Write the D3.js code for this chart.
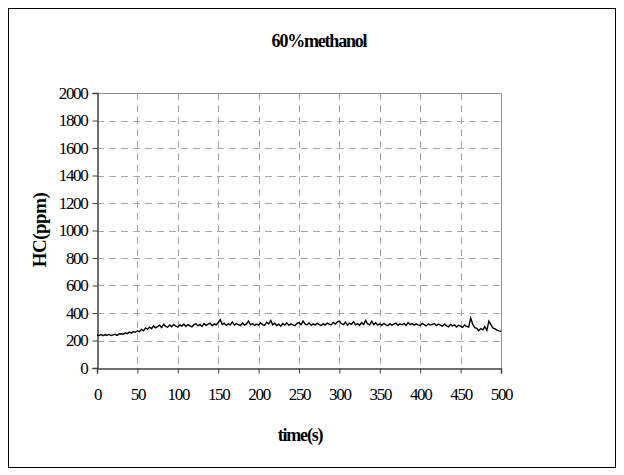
<!DOCTYPE html>
<html>
<head>
<meta charset="utf-8">
<script src="https://cdn.jsdelivr.net/npm/d3@7/dist/d3.min.js"></script>
<style>
  html, body { margin: 0; padding: 0; background: #fff; }
  svg { display: block; }
  text { font-family: "Liberation Serif", "Times New Roman", serif; fill: #000; }
</style>
</head>
<body>
<svg id="chart" width="624" height="475"></svg>
<script>
// HC concentration sampled every 2.5 s
const timeStep = 2.5;
const hcValues = [
  240,236,243,235,242,238,244,236,241,245,
  237,247,249,246,256,250,261,254,265,260,
  271,264,281,270,291,282,297,286,306,292,
  301,311,294,319,303,297,313,300,317,304,
  299,313,304,319,302,316,307,299,315,321,
  306,317,302,323,310,319,327,308,321,313,
  331,351,316,326,310,321,314,335,312,323,
  316,308,327,312,321,341,314,323,310,319,
  312,327,316,310,333,320,346,314,325,308,
  319,304,323,312,329,310,321,314,308,325,
  331,316,341,320,314,327,310,321,312,325,
  316,308,323,312,327,318,314,331,320,336,
  341,323,316,333,312,327,318,337,314,323,
  310,331,316,346,320,314,341,316,329,312,
  321,310,325,314,308,323,312,319,327,310,
  321,314,325,310,331,316,323,312,321,314,
  310,325,316,306,321,312,317,323,308,319,
  312,304,319,308,300,317,306,313,298,311,
  304,296,313,302,298,363,318,294,289,272,
  287,278,301,274,341,316,291,284,276,270,
  267
];
const xTicks = [0, 50, 100, 150, 200, 250, 300, 350, 400, 450, 500];
const yTicks = [0, 200, 400, 600, 800, 1000, 1200, 1400, 1600, 1800, 2000];
const titleText = "60%methanol";
const xLabel = "time(s)";
const yLabel = "HC(ppm)";

const svg = d3.select("#chart");
const plot = { left: 97, right: 501, top: 93, bottom: 368 };
const serif = '"Liberation Serif", "Times New Roman", serif';

// outer frame
svg.append("rect")
  .attr("x", 8.5).attr("y", 8.5)
  .attr("width", 607).attr("height", 459)
  .attr("fill", "#fff").attr("stroke", "#000").attr("stroke-width", 1);

const x = d3.scaleLinear().domain([0, 500]).range([plot.left, plot.right]);
const y = d3.scaleLinear().domain([0, 2000]).range([plot.bottom, plot.top]);

// dashed grid
const grid = svg.append("g");
grid.selectAll("line.h").data(yTicks.filter(v => v > 0 && v < 2000)).join("line")
  .attr("x1", plot.left).attr("x2", plot.right)
  .attr("y1", d => Math.round(y(d)) + 0.5).attr("y2", d => Math.round(y(d)) + 0.5)
  .attr("stroke", "#a6a6a6").attr("stroke-dasharray", "7,5");
grid.selectAll("line.v").data(xTicks.filter(v => v > 0 && v < 500)).join("line")
  .attr("y1", plot.top).attr("y2", plot.bottom)
  .attr("x1", d => Math.round(x(d)) + 0.5).attr("x2", d => Math.round(x(d)) + 0.5)
  .attr("stroke", "#a6a6a6").attr("stroke-dasharray", "7,5");

// plot frame top/right
svg.append("path")
  .attr("d", `M${plot.left},${plot.top + 0.5}H${plot.right + 0.5}V${plot.bottom}`)
  .attr("fill", "none").attr("stroke", "#8c8c8c");

// axes
const xAxis = d3.axisBottom(x).tickValues(xTicks).tickFormat(d3.format("d")).tickSize(5).tickPadding(14);
const yAxis = d3.axisLeft(y).tickValues(yTicks).tickFormat(d3.format("d")).tickSize(5).tickPadding(5);

const gx = svg.append("g").attr("transform", `translate(0,${plot.bottom + 0.5})`).call(xAxis);
const gy = svg.append("g").attr("transform", `translate(${plot.left + 0.5},0)`).call(yAxis);
[gx, gy].forEach(g => {
  g.attr("font-family", serif).attr("font-size", 17);
  g.select(".domain").attr("stroke", "#404040").attr("stroke-width", 1.5);
  g.selectAll(".tick line").attr("stroke", "#404040");
  g.selectAll(".tick text")
    .attr("font-family", serif).attr("font-size", 17)
    .attr("letter-spacing", "-1.3").attr("fill", "#000");
});

// series line
const line = d3.line()
  .x((d, i) => x(i * timeStep))
  .y(d => y(d));
svg.append("path")
  .datum(hcValues)
  .attr("d", line)
  .attr("fill", "none").attr("stroke", "#000").attr("stroke-width", 1.4)
  .attr("stroke-linejoin", "miter");

// titles
svg.append("text").attr("x", 319).attr("y", 47).attr("text-anchor", "middle")
  .attr("font-family", serif).attr("font-size", 18).attr("font-weight", "bold")
  .attr("letter-spacing", "-1.2")
  .text(titleText);
svg.append("text").attr("x", 300).attr("y", 441).attr("text-anchor", "middle")
  .attr("font-family", serif).attr("font-size", 18).attr("font-weight", "bold")
  .attr("letter-spacing", "-1.2")
  .text(xLabel);
svg.append("text").attr("transform", "translate(46,230) rotate(-90)").attr("text-anchor", "middle")
  .attr("font-family", serif).attr("font-size", 19).attr("font-weight", "bold")
  .attr("letter-spacing", "-0.5")
  .text(yLabel);
</script>
</body>
</html>
